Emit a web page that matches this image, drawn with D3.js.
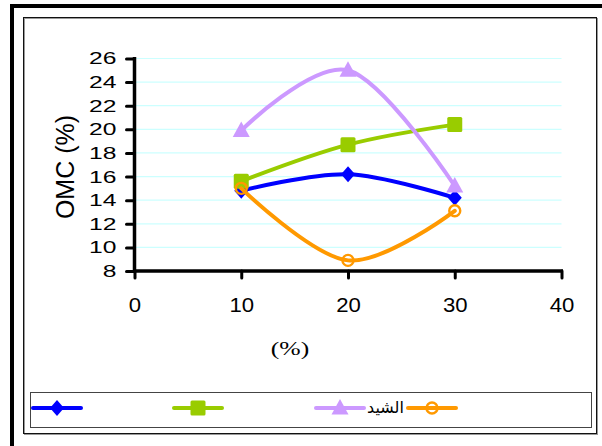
<!DOCTYPE html>
<html>
<head>
<meta charset="utf-8">
<script src="https://cdn.jsdelivr.net/npm/d3@7/dist/d3.min.js"></script>
<style>
  html, body { margin: 0; padding: 0; background: #fff; }
  svg { display: block; }
</style>
</head>
<body>
<svg id="chart" width="602" height="446"></svg>
<script>
// Lime content (%) on the x axis, optimum moisture content on the y axis
const xValues = [10, 20, 30];
const seriesBlue   = [14.8, 16.2, 14.2];
const seriesGreen  = [15.6, 18.7, 20.4];
const seriesPurple = [19.9, 25.0, 15.2];
const seriesOrange = [15.0, 8.9, 13.1];
const seriesNames  = ["", "", "الشيد", ""];
const xTicks = [0, 10, 20, 30, 40];
const yTicks = [8, 10, 12, 14, 16, 18, 20, 22, 24, 26];

const svg = d3.select("#chart");
const sans = "Arial, 'Liberation Sans', sans-serif";

// Outer heavy frame (top and left) and inner chart frame
svg.append("line").attr("x1", 12).attr("y1", 6).attr("x2", 602).attr("y2", 6)
  .attr("stroke", "#000").attr("stroke-width", 4);
svg.append("line").attr("x1", 12).attr("y1", 4).attr("x2", 12).attr("y2", 446)
  .attr("stroke", "#000").attr("stroke-width", 4);
svg.append("rect").attr("x", 24.5).attr("y", 18.5).attr("width", 573).attr("height", 416)
  .attr("fill", "none").attr("stroke", "#999").attr("stroke-width", 1);
svg.append("rect").attr("x", 23.5).attr("y", 17.5).attr("width", 573).attr("height", 416)
  .attr("fill", "none").attr("stroke", "#111").attr("stroke-width", 1);

const x = d3.scaleLinear().domain([0, 40]).range([134.5, 561.5]);
const y = d3.scaleLinear().domain([8, 26]).range([271, 58.5]);

// Horizontal gridlines
svg.append("g").selectAll("line").data(yTicks.filter(t => t > 8)).join("line")
  .attr("x1", x(0)).attr("x2", x(40))
  .attr("y1", d => y(d)).attr("y2", d => y(d))
  .attr("stroke", "#ccffff").attr("stroke-width", 1.2);

// Axes
const yAxis = d3.axisLeft(y).tickValues(yTicks).tickSize(8).tickPadding(3).tickSizeOuter(0);
const gy = svg.append("g").attr("transform", `translate(${x(0)},0)`).call(yAxis);
const xAxis = d3.axisBottom(x).tickValues(xTicks).tickSize(7).tickPadding(19).tickSizeOuter(0);
const gx = svg.append("g").attr("transform", `translate(0,${y(8)})`).call(xAxis);
[gx, gy].forEach(g => {
  g.select(".domain").attr("stroke", "#000").attr("stroke-width", 3.5);
  g.selectAll(".tick line").attr("stroke", "#000").attr("stroke-width", 3).attr("stroke-linecap", "round");
  g.selectAll(".tick text").attr("fill", "#000").style("font-family", sans);
});
gx.select(".domain").attr("d", `M${x(0) - 1.5},0H${x(40) + 1.5}`);
gy.select(".domain").attr("d", `M0,${y(26) - 1.5}V${y(8)}`);

// Wide tick labels on the value axis
gy.selectAll(".tick text").style("font-size", "17px")
  .attr("x", 0).attr("transform", "translate(-18,0) scale(1.45,1)");
gx.selectAll(".tick text").style("font-size", "20.5px")
  .attr("transform", "scale(1.08,1)");

// Axis titles
svg.append("text")
  .attr("transform", `translate(74,167) rotate(-90)`)
  .attr("text-anchor", "middle")
  .style("font-family", sans).style("font-size", "25px")
  .text("OMC (%)");
svg.append("text")
  .attr("transform", "translate(290,355) scale(1.35,1)")
  .attr("text-anchor", "middle")
  .style("font-family", "'Times New Roman', 'Liberation Serif', serif").style("font-size", "19px")
  .text("(%)");

const line = d3.line().x(d => x(d[0])).y(d => y(d[1])).curve(d3.curveCatmullRom.alpha(0));

const series = [
  { vals: seriesBlue,   color: "#0000ff", marker: "diamond" },
  { vals: seriesGreen,  color: "#99cc00", marker: "square" },
  { vals: seriesPurple, color: "#cc99ff", marker: "triangle" },
  { vals: seriesOrange, color: "#ff9900", marker: "circle" }
];

function drawMarker(g, type, color, cx, cy) {
  if (type === "diamond") {
    g.append("path").attr("d", `M${cx},${cy - 8}L${cx + 7},${cy}L${cx},${cy + 8}L${cx - 7},${cy}Z`)
      .attr("fill", color);
  } else if (type === "square") {
    g.append("rect").attr("x", cx - 7.5).attr("y", cy - 7.5).attr("width", 15).attr("height", 15)
      .attr("rx", 1.5).attr("fill", color);
  } else if (type === "triangle") {
    g.append("path").attr("d", `M${cx},${cy - 9}L${cx + 8.5},${cy + 6.5}L${cx - 8.5},${cy + 6.5}Z`)
      .attr("fill", color);
  } else {
    g.append("circle").attr("cx", cx).attr("cy", cy).attr("r", 5.5)
      .attr("fill", "none").attr("stroke", color).attr("stroke-width", 2.4);
  }
}

series.forEach(s => {
  const pts = xValues.map((xv, i) => [xv, s.vals[i]]);
  const g = svg.append("g");
  g.append("path").attr("d", line(pts)).attr("fill", "none")
    .attr("stroke", s.color).attr("stroke-width", 4).attr("stroke-linecap", "round");
  pts.forEach(p => drawMarker(g, s.marker, s.color, x(p[0]), y(p[1])));
});

// Legend
svg.append("rect").attr("x", 30.5).attr("y", 392.5).attr("width", 561).attr("height", 35)
  .attr("fill", "none").attr("stroke", "#444").attr("stroke-width", 1);
const legendX = [57, 198, 340, 432];
series.forEach((s, i) => {
  const g = svg.append("g");
  const cx = legendX[i], cy = 408;
  g.append("line").attr("x1", cx - 24).attr("x2", cx + 24).attr("y1", cy).attr("y2", cy)
    .attr("stroke", s.color).attr("stroke-width", 4).attr("stroke-linecap", "round");
  drawMarker(g, s.marker, s.color, cx, cy);
  if (seriesNames[i]) {
    g.append("text").attr("x", cx + 27).attr("y", cy + 5)
      .attr("text-anchor", "start")
      .style("font-family", "'DejaVu Sans', 'Noto Sans', sans-serif").style("font-size", "16px")
      .text(seriesNames[i]);
  }
});
</script>
</body>
</html>
